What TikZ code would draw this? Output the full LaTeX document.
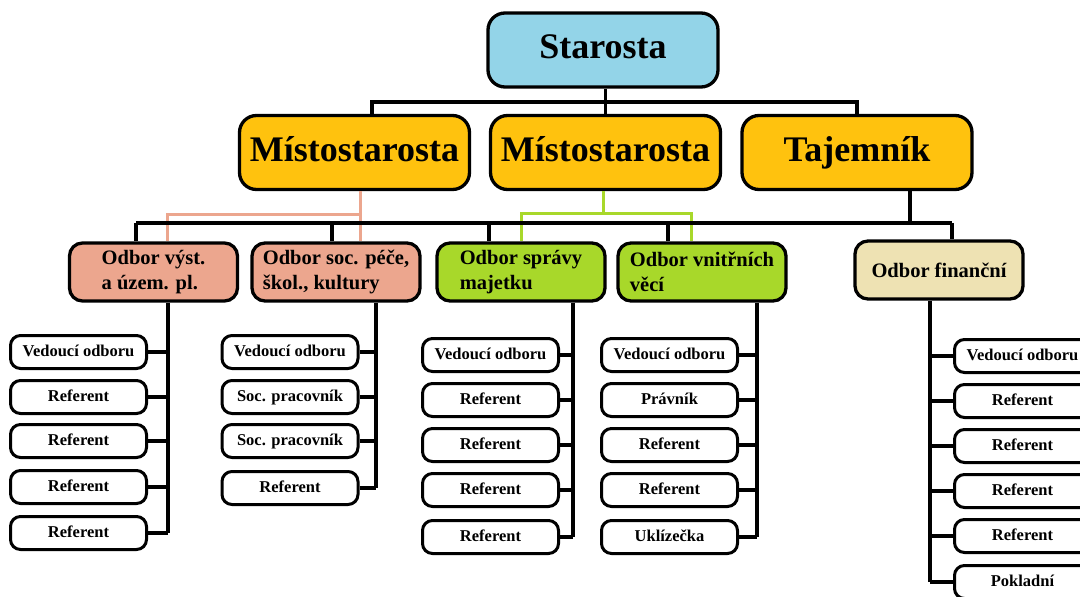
\documentclass[tikz,border=0pt]{standalone}
\usepackage{fontspec}
\setmainfont{Liberation Serif}
\usepackage{tikz}
\usetikzlibrary{calc}

\definecolor{starblue}{RGB}{147,212,232}
\definecolor{gold}{RGB}{255,194,14}
\definecolor{salmon}{RGB}{236,166,142}
\definecolor{lime}{RGB}{168,216,42}
\definecolor{beige}{RGB}{238,226,179}

\tikzset{
  topbox/.style={draw, line width=3.3pt, rounded corners=17pt, inner sep=0pt,
    minimum width=230pt, minimum height=74pt, text height=25pt, text depth=8pt,
    font=\bfseries\fontsize{36}{40}\selectfont},
  deptbox/.style={draw, line width=3.3pt, rounded corners=13pt, inner sep=0pt,
    minimum width=168pt, minimum height=58pt, align=left,
    font=\bfseries\fontsize{20.5}{25}\selectfont},
  staff/.style={draw, line width=3pt, rounded corners=10pt, inner sep=0pt,
    minimum width=136pt, minimum height=33pt, fill=white,
    text height=11.5pt, text depth=3.5pt,
    font=\bfseries\fontsize{16.5}{19}\selectfont},
  conn/.style={line width=3.2pt},
  pinkline/.style={line width=3pt, color=salmon},
  greenline/.style={line width=3pt, color=lime}
}

\begin{document}
\begin{tikzpicture}[x=1pt,y=-1pt]
      \useasboundingbox (0,0) rectangle (1080,597);
      % vedeni
      \node (st)  at (603,50)    [topbox, fill=starblue] {Starosta};
      \node (m1)  at (354.5,152.5) [topbox, fill=gold] {Místostarosta};
      \node (m2)  at (605.5,152.5) [topbox, fill=gold] {Místostarosta};
      \node (taj) at (857,152.5) [topbox, fill=gold] {Tajemník};
      % odbory
      \node (o1) at (153.5,272) [deptbox, fill=salmon] {Odbor výst.\\a územ. pl.};
      \node (o2) at (336,272)   [deptbox, fill=salmon] {Odbor soc. péče,\\škol., kultury};
      \node (o3) at (521,272)   [deptbox, fill=lime] {Odbor správy\\majetku};
      \node (o4) at (702,272)   [deptbox, fill=lime] {Odbor vnitřních\\věcí};
      \node (o5) at (939,270)   [deptbox, fill=beige] {Odbor finanční};
      % spoje nahore
      \coordinate (bus1) at (372,102);
      \draw[conn] (st.south -| m2.north) -- (m2.north);
      \draw[conn] (m1.north -| bus1) -- (bus1) -- (bus1 -| taj.north) -- (taj.north);
      % barevne spoje
      \coordinate (p1) at (167,214);
      \coordinate (p2) at (360,214);
      \draw[pinkline] (m1.south -| p2) -- (o2.north -| p2);
      \draw[pinkline] (o1.north -| p1) |- (p2);
      \coordinate (g1) at (521,213);
      \coordinate (g2) at (691,213);
      \coordinate (gm) at (603,213);
      \draw[greenline] (m2.south -| gm) -- (gm);
      \draw[greenline] (o3.north -| g1) |- (g2) -- (o4.north -| g2);
      % sbernice od tajemnika
      \coordinate (j1) at (136,223);
      \coordinate (j2) at (332,223);
      \coordinate (j3) at (489,223);
      \coordinate (j4) at (668,223);
      \coordinate (j5) at (952,223);
      \coordinate (jt) at (910,223);
      \draw[conn] (taj.south -| jt) -- (jt);
      \draw[conn] (j1) -- (j5);
      \foreach \i in {1,...,5}
               {
                 \draw[conn] (j\i) -- (o\i.north -| j\i);
               }
      % zamestnanci
      \coordinate (t1) at (168,0);
      \coordinate (t2) at (376,0);
      \coordinate (t3) at (573,0);
      \coordinate (t4) at (757,0);
      \coordinate (t5) at (930,0);
      \foreach \i/\y/\lbl in {1/352/Vedoucí odboru,2/397/Referent,3/441/Referent,4/487/Referent,5/533/Referent}
               {
                 \node (a\i) at (78.5,\y) [staff] {\lbl};
                 \draw[conn] (a\i.east) -- (a\i.east -| t1);
               }
      \draw[conn] (o1.south -| t1) -- (a5.east -| t1);
      \foreach \i/\y/\lbl in {1/352/Vedoucí odboru,2/397/Soc. pracovník,3/441/Soc. pracovník,4/488/Referent}
               {
                 \node (b\i) at (290,\y) [staff] {\lbl};
                 \draw[conn] (b\i.east) -- (b\i.east -| t2);
               }
      \draw[conn] (o2.south -| t2) -- (b4.east -| t2);
      \foreach \i/\y/\lbl in {1/355/Vedoucí odboru,2/400/Referent,3/445/Referent,4/490/Referent,5/537/Referent}
               {
                 \node (c\i) at (490.5,\y) [staff] {\lbl};
                 \draw[conn] (c\i.east) -- (c\i.east -| t3);
               }
      \draw[conn] (o3.south -| t3) -- (c5.east -| t3);
      \foreach \i/\y/\lbl in {1/355/Vedoucí odboru,2/400/Právník,3/445/Referent,4/490/Referent,5/537/Uklízečka}
               {
                 \node (d\i) at (669.5,\y) [staff] {\lbl};
                 \draw[conn] (d\i.east) -- (d\i.east -| t4);
               }
      \draw[conn] (o4.south -| t4) -- (d5.east -| t4);
      \foreach \i/\y/\lbl in {1/356/Vedoucí odboru,2/401/Referent,3/446/Referent,4/491/Referent,5/536/Referent,6/582/Pokladní}
               {
                 \node (e\i) at (1022.5,\y) [staff] {\lbl};
                 \draw[conn] (e\i.west) -- (e\i.west -| t5);
               }
      \draw[conn] (o5.south -| t5) -- (e6.west -| t5);
    \end{tikzpicture}
\end{document}
